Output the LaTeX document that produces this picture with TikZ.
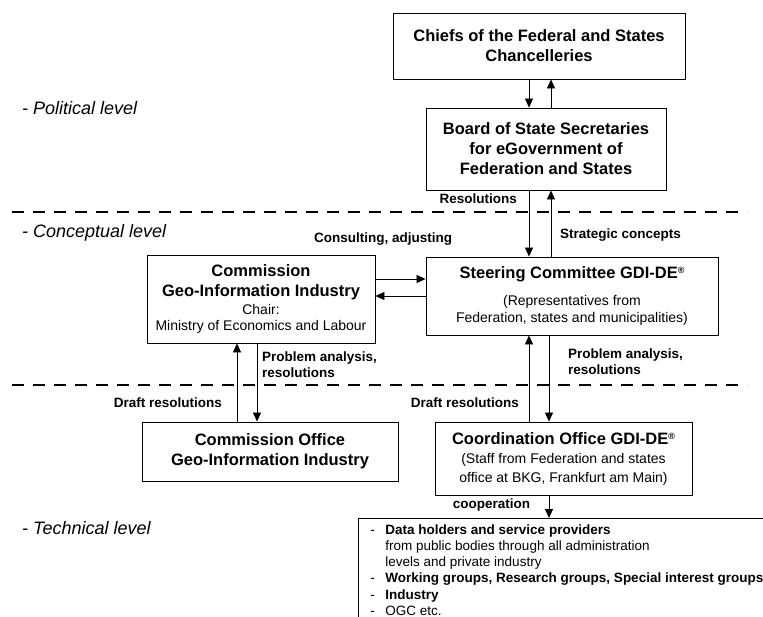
\documentclass[tikz,border=0pt]{standalone}
\usepackage{fontspec}
\setmainfont{Liberation Sans}
\usetikzlibrary{arrows.meta}
\newcommand\smallfnt{\fontsize{14}{16}\selectfont\mdseries}
\newcommand\regmark{\raisebox{5pt}{\fontsize{9}{9}\selectfont ®}}
\begin{document}
\begin{tikzpicture}[x=1pt,y=-1pt,
  box/.style={draw, line width=0.9pt, inner sep=0pt, align=center, font=\fontsize{16.5}{20}\selectfont\bfseries},
  arr/.style={line width=0.8pt, -{Triangle[length=9pt,width=8pt]}},
  lbl/.style={font=\fontsize{13.5}{16}\selectfont\bfseries, inner sep=0pt, align=left},
  lvl/.style={font=\fontsize{18}{20}\selectfont\itshape, anchor=west, inner sep=0pt},
  levelline/.style={line width=2.5pt, dash pattern=on 12pt off 9pt}]
\clip (0,0) rectangle (763,617);
\fill[white] (0,0) rectangle (763,617);

% level separators
\coordinate (d1a) at (12,212); \coordinate (d1b) at (747,212);
\coordinate (d2a) at (12,385); \coordinate (d2b) at (747,385);
\draw[levelline] (d1a) -- (d1b);
\draw[levelline] (d2a) -- (d2b);

% level labels
\node[lvl] (lpol) at (22,108) {- Political level};
\node[lvl] (lcon) at (22,233) {- Conceptual level};
\node[lvl] (ltec) at (22,528) {- Technical level};

% boxes
\node[box, minimum width=292pt, minimum height=66pt] (chiefs) at (539,46) {Chiefs of the Federal and States\\Chancelleries};
\node[box, minimum width=240pt, minimum height=82pt] (board) at (546,149) {Board of State Secretaries\\for eGovernment of\\Federation and States};
\node[box, minimum width=292pt, minimum height=78pt] (steer) at (572,296) {Steering Committee GDI-DE\regmark\\[7pt]{\smallfnt (Representatives from}\\[-3pt]{\smallfnt Federation, states and municipalities)}};
\node[box, minimum width=228pt, minimum height=88pt] (comm) at (261,299) {Commission\\Geo-Information Industry\\[-2pt]{\smallfnt Chair:}\\[-4pt]{\smallfnt Ministry of Economics and Labour}};
\node[box, minimum width=256pt, minimum height=59pt] (cooff) at (270,451.5) {Commission Office\\Geo-Information Industry};
\node[box, minimum width=257pt, minimum height=73pt] (coord) at (563.5,458.5) {Coordination Office GDI-DE\regmark\\[-1pt]{\smallfnt (Staff from Federation and states}\\[-1pt]{\smallfnt office at BKG, Frankfurt am Main)}};
\node[draw, line width=0.9pt, anchor=north west, inner xsep=12pt, inner ysep=6pt, align=left, font=\fontsize{13.5}{16.2}\selectfont] (stake) at (358,518) {%
\makebox[15pt][l]{-}\textbf{Data holders and service providers}\\
\hspace*{15pt}from public bodies through all administration\\
\hspace*{15pt}levels and private industry\\
\makebox[15pt][l]{-}\textbf{Working groups, Research groups, Special interest groups}\\
\makebox[15pt][l]{-}\textbf{Industry}\\
\makebox[15pt][l]{-}OGC etc.\\
\hspace*{15pt}~};

% x / y positions of connectors
\coordinate (xa) at (529,0); \coordinate (xb) at (551,0); \coordinate (xc) at (549,0);
\coordinate (xd) at (237,0); \coordinate (xe) at (257,0);
\coordinate (ya) at (0,279); \coordinate (yb) at (0,296);

% connectors
\draw[arr] (chiefs.south -| xa) -- (board.north -| xa);
\draw[arr] (board.north -| xb) -- (chiefs.south -| xb);
\draw[arr] (board.south -| xa) -- (steer.north -| xa);
\draw[arr] (steer.north -| xb) -- (board.south -| xb);
\draw[arr] (comm.east |- ya) -- (steer.west |- ya);
\draw[arr] (steer.west |- yb) -- (comm.east |- yb);
\draw[arr] (cooff.north -| xd) -- (comm.south -| xd);
\draw[arr] (comm.south -| xe) -- (cooff.north -| xe);
\draw[arr] (coord.north -| xa) -- (steer.south -| xa);
\draw[arr] (steer.south -| xc) -- (coord.north -| xc);
\draw[arr] (coord.south -| xc) -- (stake.north -| xc);

% connector labels
\node[lbl, anchor=east] (lres) at (517,199) {Resolutions};
\node[lbl, anchor=west] (lstrat) at (560,235) {Strategic concepts};
\node[lbl, anchor=west] (lcons) at (314,239) {Consulting, adjusting};
\node[lbl, anchor=west] (lprob1) at (262,365) {Problem analysis,\\resolutions};
\node[lbl, anchor=west] (lprob2) at (568,361.5) {Problem analysis,\\resolutions};
\node[lbl, anchor=east] (ldraft1) at (222,403) {Draft resolutions};
\node[lbl, anchor=east] (ldraft2) at (519,403) {Draft resolutions};
\node[lbl] (lcoop) at (491.5,505) {cooperation};
\end{tikzpicture}
\end{document}
